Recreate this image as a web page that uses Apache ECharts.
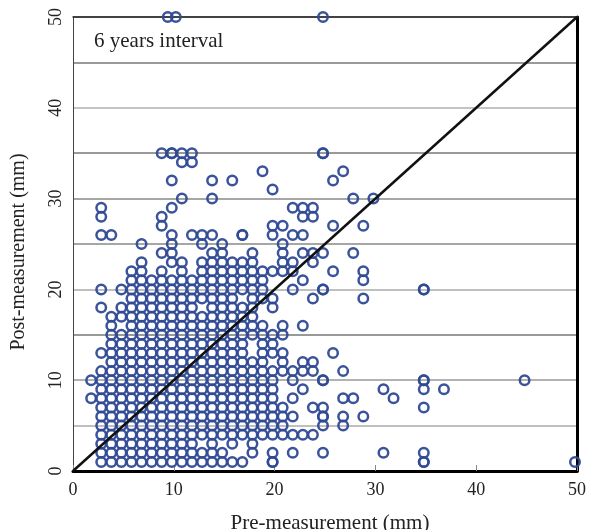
<!DOCTYPE html>
<html>
<head>
<meta charset="utf-8">
<style>html,body{margin:0;padding:0;background:#fff}#c{width:589px;height:530px}</style>
<script src="https://cdn.jsdelivr.net/npm/echarts@6/dist/echarts.min.js"></script>
</head>
<body>
<div id="c"></div>
<script>
var xValues = [1.8,2.8,3.8,4.8,5.8,6.8,7.8,8.8,9.4,9.8,10.2,10.8,11.8,12.8,13.8,14.8,15.8,16.8,17.8,18.8,19.8,20.8,21.8,22.8,23.8,24.8,25.8,26.8,27.8,28.8,29.8,30.8,31.8,34.8,36.8,44.8,49.8];
var yValues = [
 [10,8],
 [29,28,26,20,18,13,11,10,9,8,7,6,5,4,3,2,1],
 [26,17,16,15,14,13,12,11,10,9,8,7,6,5,4,3,2,1],
 [20,18,17,15,14,13,12,11,10,9,8,7,6,5,4,3,2,1],
 [22,21,20,19,18,17,16,15,14,13,12,11,10,9,8,7,6,5,4,3,2,1],
 [25,23,22,21,20,19,18,17,16,15,14,13,12,11,10,9,8,7,6,5,4,3,2,1],
 [21,20,19,18,17,16,15,14,13,12,11,10,9,8,7,6,5,4,3,2,1],
 [35,28,27,24,22,21,20,19,18,17,16,15,14,13,12,11,10,9,8,7,6,5,4,3,2,1],
 [50],
 [35,35,32,29,26,25,24,23,21,20,19,18,17,16,15,14,13,12,11,10,9,8,7,6,5,4,3,2,1],
 [50],
 [35,34,30,23,22,21,20,19,18,17,16,15,14,13,12,11,10,9,8,7,6,5,4,3,2,1],
 [35,34,26,21,20,19,18,17,16,15,14,13,12,11,10,9,8,7,6,5,4,3,2,1],
 [26,25,23,22,21,20,19,17,16,15,14,13,12,11,10,9,8,7,6,5,4,2,1],
 [32,30,26,24,23,22,21,20,19,18,17,16,15,14,13,12,11,10,9,8,7,6,5,4,3,2,1],
 [25,24,23,22,21,20,19,18,17,16,15,14,13,12,11,10,9,8,7,6,5,4,2,1],
 [32,23,22,21,20,19,18,17,16,15,14,13,12,11,10,9,8,7,6,5,4,3,1],
 [26,26,23,22,21,20,18,17,16,15,14,13,12,11,10,9,8,7,6,5,4,1],
 [24,23,22,21,20,19,18,17,16,15,12,11,10,9,8,7,6,5,4,3,2],
 [33,22,21,20,19,16,15,14,13,12,11,10,9,8,7,6,5,4],
 [31,27,26,22,19,18,15,14,13,11,10,9,8,7,6,5,4,2,1,1],
 [27,25,24,23,22,16,15,13,12,11,7,6,5,4],
 [29,26,23,22,20,11,10,8,6,4,2],
 [29,28,26,24,21,16,12,11,9,4],
 [29,28,24,23,19,12,11,7,4],
 [50,35,35,24,20,20,10,10,7,6,6,5,2],
 [32,27,22,13],
 [33,11,8,6,5],
 [30,24,8],
 [27,22,21,19,6],
 [30],
 [9,2],
 [8],
 [20,20,10,10,9,7,2,1,1],
 [9],
 [10],
 [1]
];
var diagonal = [[0,0],[50,50]];
var xTicks = [0,10,20,30,40,50];
var yTicks = [0,10,20,30,40,50];
var gridColors = ['#000','#aaa','#999','#777','#aaa','#888','#888','#777','#b0b0b0','#777','#444'];
var xTitle = 'Pre-measurement (mm)';
var yTitle = 'Post-measurement (mm)';
var note = '6 years interval';

var points = [];
xValues.forEach(function(x,i){ yValues[i].forEach(function(y){ points.push([x,y]); }); });
var serif = '"Liberation Serif","Times New Roman",serif';
var chart = echarts.init(document.getElementById('c'), null, {renderer:'canvas'});
chart.setOption({
  animation:false,
  backgroundColor:'#fff',
  grid:{left:73,right:12,top:17,bottom:59,containLabel:false,outerBoundsMode:'none'},
  graphic:[{type:'text',left:94,top:31,style:{text:note,font:'21px '+serif,fill:'#222'}}],
  xAxis:[{
    type:'value',min:0,max:50,interval:10,position:'bottom',
    name:xTitle,nameLocation:'middle',nameGap:42,
    nameTextStyle:{fontFamily:serif,fontSize:21,color:'#222',padding:[0,0,0,10]},
    axisLine:{show:true,onZero:false,lineStyle:{color:'#000',width:3}},
    axisTick:{show:true,inside:true,length:6,lineStyle:{color:'#888',width:1}},
    axisLabel:{fontFamily:serif,fontSize:18,color:'#222',margin:10,formatter:function(v){return xTicks.indexOf(v)>=0?String(v):'';}},
    splitLine:{show:false}
  },{
    type:'value',min:0,max:50,position:'top',
    axisLine:{show:true,onZero:false,lineStyle:{color:'#333',width:1.5}},
    axisTick:{show:false},axisLabel:{show:false},splitLine:{show:false}
  }],
  yAxis:[{
    type:'value',min:0,max:50,interval:5,position:'left',
    name:yTitle,nameLocation:'middle',nameGap:44,nameRotate:90,
    nameTextStyle:{fontFamily:serif,fontSize:20,color:'#222',padding:[0,16,0,0]},
    axisLine:{show:true,onZero:false,lineStyle:{color:'#444',width:1}},
    axisTick:{show:false},
    axisLabel:{rotate:90,fontFamily:serif,fontSize:18,color:'#222',margin:8,formatter:function(v){return yTicks.indexOf(v)>=0?String(v):'';}},
    splitLine:{show:true,lineStyle:{color:gridColors,width:1.5}}
  },{
    type:'value',min:0,max:50,position:'right',
    axisLine:{show:true,onZero:false,lineStyle:{color:'#000',width:3}},
    axisTick:{show:false},axisLabel:{show:false},splitLine:{show:false}
  }],
  series:[{
    type:'scatter',data:points,symbol:'circle',symbolSize:9.5,clip:true,
    itemStyle:{color:'rgba(0,0,0,0)',borderColor:'#2f4a95',borderWidth:2.5,opacity:0.95},
    z:3
  },{
    type:'line',data:diagonal,symbol:'none',silent:true,
    lineStyle:{color:'#111',width:2.5},z:4
  }]
});
</script>
</body>
</html>
